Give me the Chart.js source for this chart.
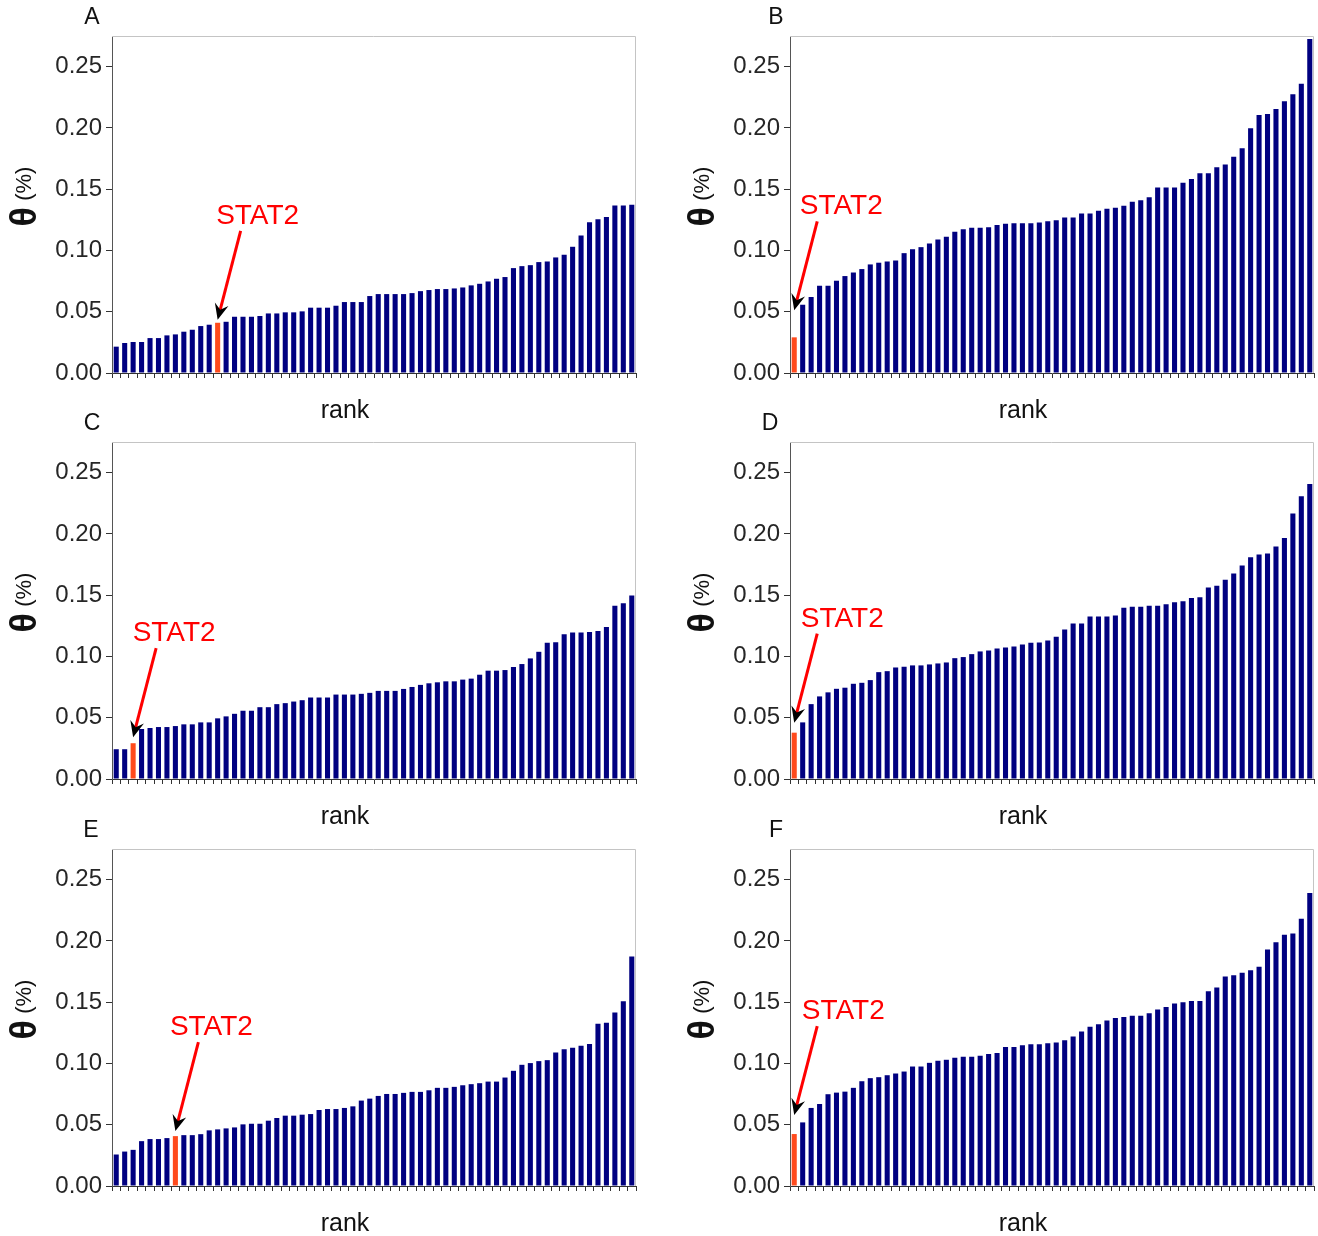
<!DOCTYPE html>
<html>
<head>
<meta charset="utf-8">
<script src="https://cdn.jsdelivr.net/npm/chart.js@4.4.0/dist/chart.umd.min.js"></script>
<style>
  html, body { margin: 0; padding: 0; background: #fff; overflow: hidden; }
  #page { position: relative; width: 1318px; height: 1236px; }
  .panel { position: absolute; width: 640px; height: 422px; }
</style>
</head>
<body>
<div id="page"></div>
<script>
// theta (%) per rank
const thetaA = [0.0215, 0.0245, 0.0253, 0.0253, 0.0285, 0.0285, 0.0307, 0.0315, 0.0337, 0.0353,
    0.0383, 0.0394, 0.041, 0.0418, 0.0459, 0.0459, 0.0459, 0.0465, 0.0486, 0.0486,
    0.0495, 0.0495, 0.0503, 0.0533, 0.0533, 0.0533, 0.0549, 0.0579, 0.0579, 0.0579,
    0.0628, 0.0644, 0.0644, 0.0644, 0.0644, 0.0652, 0.0668, 0.0677, 0.0685, 0.0685,
    0.069, 0.0698, 0.0715, 0.0728, 0.0747, 0.0769, 0.0783, 0.0856, 0.0872, 0.088,
    0.0905, 0.091, 0.0943, 0.0965, 0.103, 0.1122, 0.1231, 0.1255, 0.1272, 0.1367, 0.1367, 0.1372];
const thetaB = [0.0291, 0.0557, 0.062, 0.0712, 0.0712, 0.0753, 0.0791, 0.082, 0.0848, 0.0886,
    0.09, 0.091, 0.0918, 0.0978, 0.101, 0.1027, 0.1057, 0.109, 0.1111, 0.1152,
    0.1174, 0.1185, 0.1185, 0.119, 0.1207, 0.1217, 0.1223, 0.1223, 0.1223, 0.1228,
    0.1239, 0.1247, 0.1269, 0.1269, 0.1302, 0.1302, 0.1323, 0.134, 0.1348, 0.1364,
    0.1397, 0.141, 0.1435, 0.1514, 0.1514, 0.1514, 0.1552, 0.1584, 0.163, 0.163,
    0.1679, 0.1701, 0.1764, 0.1834, 0.1997, 0.2106, 0.2114, 0.2155, 0.2217, 0.2274, 0.2361, 0.2726];
const thetaC = [0.0243, 0.0243, 0.0292, 0.0408, 0.0416, 0.0424, 0.0424, 0.0432, 0.0446, 0.0446,
    0.0462, 0.0462, 0.0495, 0.0511, 0.0532, 0.0557, 0.0557, 0.0586, 0.0586, 0.0611,
    0.0619, 0.0632, 0.0643, 0.0665, 0.0665, 0.0665, 0.0689, 0.0689, 0.0689, 0.0695,
    0.0703, 0.0719, 0.0719, 0.0719, 0.0735, 0.0751, 0.0768, 0.0781, 0.0789, 0.0797,
    0.0797, 0.0811, 0.0819, 0.0851, 0.0884, 0.0884, 0.0889, 0.0914, 0.0938, 0.0984,
    0.1038, 0.1111, 0.1116, 0.1181, 0.1195, 0.1195, 0.12, 0.1208, 0.1241, 0.1414, 0.1435, 0.1497];
const thetaD = [0.0378, 0.0462, 0.0611, 0.0674, 0.0707, 0.0736, 0.0745, 0.0777, 0.0785, 0.0807,
    0.0872, 0.088, 0.091, 0.0916, 0.0927, 0.0927, 0.0935, 0.0943, 0.0951, 0.0986,
    0.0995, 0.1019, 0.1041, 0.1049, 0.1065, 0.1073, 0.1082, 0.1098, 0.1111, 0.1114,
    0.113, 0.116, 0.122, 0.1269, 0.1269, 0.1326, 0.1326, 0.1326, 0.1334, 0.1397,
    0.1405, 0.1405, 0.1413, 0.1413, 0.1427, 0.1443, 0.1451, 0.1476, 0.1484, 0.1563,
    0.1576, 0.1625, 0.1677, 0.1742, 0.181, 0.1832, 0.184, 0.1897, 0.1967, 0.2166, 0.2307, 0.2408];
const thetaE = [0.0257, 0.0281, 0.0295, 0.0366, 0.0383, 0.0383, 0.0391, 0.0407, 0.0415, 0.0415,
    0.0423, 0.0454, 0.0462, 0.047, 0.0478, 0.0503, 0.0508, 0.0508, 0.0533, 0.0555,
    0.0574, 0.0574, 0.0582, 0.0587, 0.062, 0.0628, 0.0628, 0.0637, 0.065, 0.0697,
    0.0713, 0.0735, 0.0751, 0.0751, 0.076, 0.0768, 0.0768, 0.0781, 0.0801, 0.0801,
    0.0809, 0.0822, 0.0831, 0.0839, 0.0852, 0.0852, 0.0885, 0.094, 0.0989, 0.1003,
    0.1019, 0.1027, 0.109, 0.1115, 0.1128, 0.1145, 0.1158, 0.1325, 0.1333, 0.1415, 0.1508, 0.1872];
const thetaF = [0.0424, 0.0519, 0.0637, 0.0669, 0.0749, 0.0762, 0.077, 0.0801, 0.0855, 0.088,
    0.0888, 0.0904, 0.0918, 0.0934, 0.0975, 0.0975, 0.1005, 0.1022, 0.103, 0.1046,
    0.1055, 0.1055, 0.1063, 0.1077, 0.1085, 0.1134, 0.1134, 0.1148, 0.1156, 0.1156,
    0.1164, 0.117, 0.119, 0.122, 0.126, 0.130, 0.132, 0.135, 0.137, 0.138,
    0.139, 0.139, 0.141, 0.144, 0.146, 0.149, 0.150, 0.151, 0.151, 0.159,
    0.162, 0.171, 0.172, 0.174, 0.176, 0.179, 0.193, 0.199, 0.205, 0.206, 0.218, 0.239];

// rank position of STAT2 in each panel (0-based)
const stat2Rank = { A: 12, B: 0, C: 2, D: 0, E: 7, F: 0 };
const yTicks = [0, 0.05, 0.10, 0.15, 0.20, 0.25];
const xLabel = 'rank';
const geneLabel = 'STAT2';

const panels = [
    { name: 'A', values: thetaA, left: 0, top: 0, gap: 3, letterDx: -20, textDx: 17 },
    { name: 'B', values: thetaB, left: 678, top: 0, gap: 27, letterDx: -14, textDx: 24 },
    { name: 'C', values: thetaC, left: 0, top: 406, gap: 6, letterDx: -20, textDx: 18 },
    { name: 'D', values: thetaD, left: 678, top: 406, gap: 10, letterDx: -20, textDx: 25 },
    { name: 'E', values: thetaE, left: 0, top: 813, gap: 5, letterDx: -21, textDx: 13 },
    { name: 'F', values: thetaF, left: 678, top: 813, gap: 19, letterDx: -14, textDx: 26 }
];

const FONT = '"Liberation Sans", Arial, sans-serif';
Chart.defaults.font.family = FONT;

// frame, panel letter, axis titles and the STAT2 arrow
const decorPlugin = {
    id: 'decor',
    afterDraw: function (chart, args, opts) {
        const ctx = chart.ctx;
        const area = chart.chartArea;
        ctx.save();

        ctx.strokeStyle = '#c4c4c4';
        ctx.lineWidth = 1;
        ctx.beginPath();
        ctx.moveTo(area.left, area.top + 0.5);
        ctx.lineTo(area.right - 0.5, area.top + 0.5);
        ctx.lineTo(area.right - 0.5, area.bottom);
        ctx.stroke();

        ctx.fillStyle = '#111';
        ctx.textAlign = 'center';
        ctx.textBaseline = 'middle';
        ctx.font = '23px ' + FONT;
        ctx.fillText(opts.letter, area.left + opts.letterDx, area.top - 18);

        ctx.font = '25px ' + FONT;
        ctx.fillText(xLabel, (area.left + area.right) / 2 - 29, area.bottom + 38);

        // y title: bold theta + (%)
        ctx.save();
        ctx.translate(area.left - 86, (area.top + area.bottom) / 2 - 8);
        ctx.rotate(-Math.PI / 2);
        const thetaFont = 'bold 36px ' + FONT;
        const unitFont = '22px ' + FONT;
        ctx.font = thetaFont;
        const w1 = ctx.measureText('θ').width;
        ctx.font = unitFont;
        const w2 = ctx.measureText(' (%)').width;
        let x0 = -(w1 + w2) / 2;
        ctx.textAlign = 'left';
        ctx.font = thetaFont;
        ctx.fillText('θ', x0, 0);
        ctx.font = unitFont;
        ctx.fillText(' (%)', x0 + w1, -1);
        ctx.restore();

        // arrow to the STAT2 bar
        const bar = chart.getDatasetMeta(0).data[opts.stat];
        const tipX = bar.x;
        const tipY = bar.y - opts.gap;
        const tailX = tipX + 23;
        const tailY = tipY - 89;
        const len = Math.hypot(tipX - tailX, tipY - tailY);
        const ux = (tipX - tailX) / len;
        const uy = (tipY - tailY) / len;
        const px = -uy;
        const py = ux;
        const head = 16;

        ctx.strokeStyle = '#ff0000';
        ctx.lineWidth = 3;
        ctx.beginPath();
        ctx.moveTo(tailX, tailY);
        ctx.lineTo(tipX - ux * head * 0.6, tipY - uy * head * 0.6);
        ctx.stroke();

        ctx.fillStyle = '#000';
        ctx.beginPath();
        ctx.moveTo(tipX, tipY);
        ctx.lineTo(tipX - ux * head + px * 7, tipY - uy * head + py * 7);
        ctx.lineTo(tipX - ux * head * 0.65, tipY - uy * head * 0.65);
        ctx.lineTo(tipX - ux * head - px * 7, tipY - uy * head - py * 7);
        ctx.closePath();
        ctx.fill();

        ctx.fillStyle = '#ff0000';
        ctx.font = '28px ' + FONT;
        ctx.textAlign = 'center';
        ctx.textBaseline = 'alphabetic';
        ctx.fillText(geneLabel, tailX + opts.textDx, tailY - 7);

        ctx.restore();
    }
};

const page = document.getElementById('page');

panels.forEach(function (p) {
    const box = document.createElement('div');
    box.className = 'panel';
    box.style.left = p.left + 'px';
    box.style.top = p.top + 'px';
    const canvas = document.createElement('canvas');
    canvas.width = 640;
    canvas.height = 422;
    box.appendChild(canvas);
    page.appendChild(box);

    const stat = stat2Rank[p.name];
    const labels = p.values.map(function (v, i) { return i + 1; });
    const colors = p.values.map(function (v, i) { return i === stat ? '#ff4a1c' : '#000080'; });

    new Chart(canvas, {
        type: 'bar',
        data: {
            labels: labels,
            datasets: [{
                data: p.values,
                backgroundColor: colors,
                borderWidth: 0,
                barPercentage: 0.6,
                categoryPercentage: 1.0
            }]
        },
        options: {
            responsive: false,
            animation: false,
            layout: { padding: { top: 36, left: 0, right: 4, bottom: 0 } },
            plugins: {
                legend: { display: false },
                tooltip: { enabled: false },
                decor: { letter: p.name, letterDx: p.letterDx, stat: stat, gap: p.gap, textDx: p.textDx }
            },
            scales: {
                x: {
                    afterFit: function (scale) { scale.height = 49; },
                    ticks: { display: false },
                    grid: { drawOnChartArea: false, tickLength: 5, color: '#333', offset: true },
                    border: { color: '#333' }
                },
                y: {
                    min: 0,
                    max: 0.275,
                    afterBuildTicks: function (scale) {
                        scale.ticks = yTicks.map(function (v) { return { value: v }; });
                    },
                    afterFit: function (scale) { scale.width = 112; },
                    ticks: {
                        padding: 4,
                        color: '#262626',
                        font: { size: 24 },
                        callback: function (v) { return Number(v).toFixed(2); }
                    },
                    grid: { drawOnChartArea: false, tickLength: 6, color: '#333' },
                    border: { color: '#555' }
                }
            }
        },
        plugins: [decorPlugin]
    });
});
</script>
</body>
</html>
